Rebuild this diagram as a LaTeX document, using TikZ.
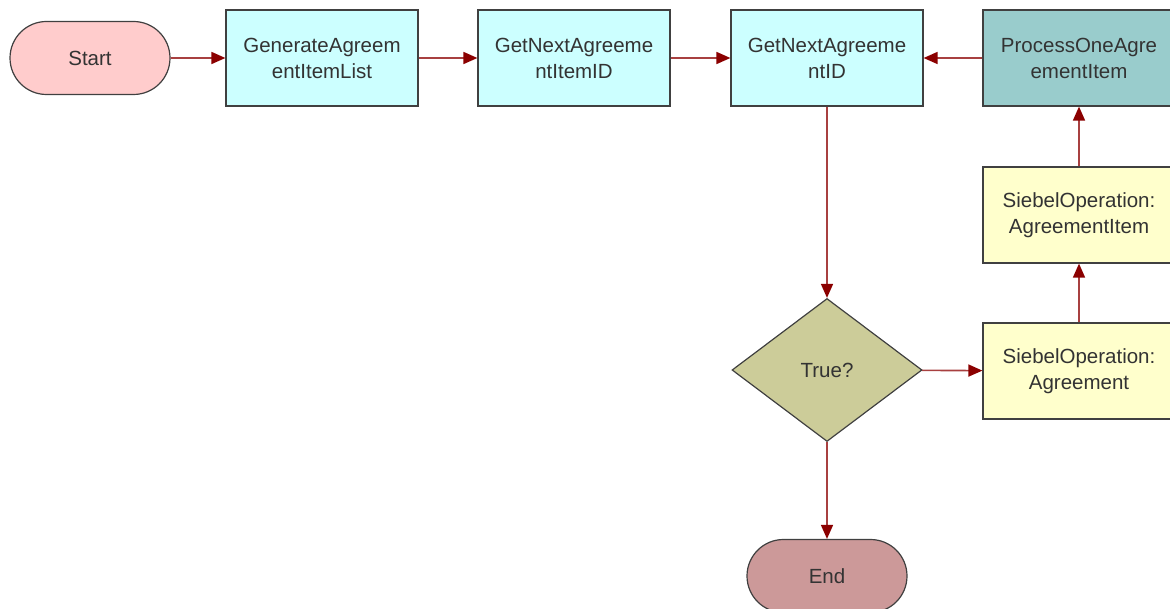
\documentclass[tikz,border=0pt]{standalone}
\usepackage{fontspec}
\setmainfont{Liberation Sans}
\usetikzlibrary{shapes.geometric,shapes.misc,arrows.meta}
\definecolor{termstart}{HTML}{FFCCCC}
\definecolor{termend}{HTML}{CC9999}
\definecolor{taskcyan}{HTML}{CCFFFF}
\definecolor{subteal}{HTML}{99CCCC}
\definecolor{opyellow}{HTML}{FFFFCC}
\definecolor{decolive}{HTML}{CCCC99}
\definecolor{flowred}{HTML}{A84040}
\definecolor{tipred}{HTML}{8B0000}
\begin{document}
\begin{tikzpicture}[x=1pt,y=-1pt,
    every node/.style={font=\fontsize{20.5}{26}\selectfont, text=black!80,
      align=center, draw=black!75, line width=1.2pt},
    terminal/.style={rounded rectangle, minimum width=160pt, minimum height=73pt, inner sep=0pt},
    taskbox/.style={rectangle, minimum width=192pt, minimum height=96pt, inner sep=0pt},
    decision/.style={diamond, minimum width=190pt, minimum height=143pt, inner sep=0pt},
    flow/.style={draw=flowred, line width=1.6pt,
      -{Triangle[length=14pt,width=12pt,color=tipred]}}]
  \useasboundingbox (0,0) rectangle (1170,609);
  \draw
    (90,58) node[terminal, fill=termstart] (start){Start}
    (322,58) node[taskbox, fill=taskcyan] (genlist){GenerateAgreem\\entItemList}
    (574,58) node[taskbox, fill=taskcyan] (nextitem){GetNextAgreeme\\ntItemID}
    (827,58) node[taskbox, fill=taskcyan] (nextagr){GetNextAgreeme\\ntID}
    (1079,58) node[taskbox, fill=subteal] (process){ProcessOneAgre\\ementItem}
    (1079,215) node[taskbox, fill=opyellow] (opitem){SiebelOperation:\\AgreementItem}
    (1079,371) node[taskbox, fill=opyellow] (opagr){SiebelOperation:\\Agreement}
    (827,370) node[decision, fill=decolive] (check){True?}
    (827,576) node[terminal, fill=termend] (end){End};
  \begin{scope}[flow]
    \draw (start) to (genlist);
    \draw (genlist) to (nextitem);
    \draw (nextitem) to (nextagr);
    \draw (process) to (nextagr);
    \draw (nextagr) to (check);
    \draw (check) to (end);
    \draw (check) to (opagr);
    \draw (opagr) to (opitem);
    \draw (opitem) to (process);
  \end{scope}
\end{tikzpicture}
\end{document}
